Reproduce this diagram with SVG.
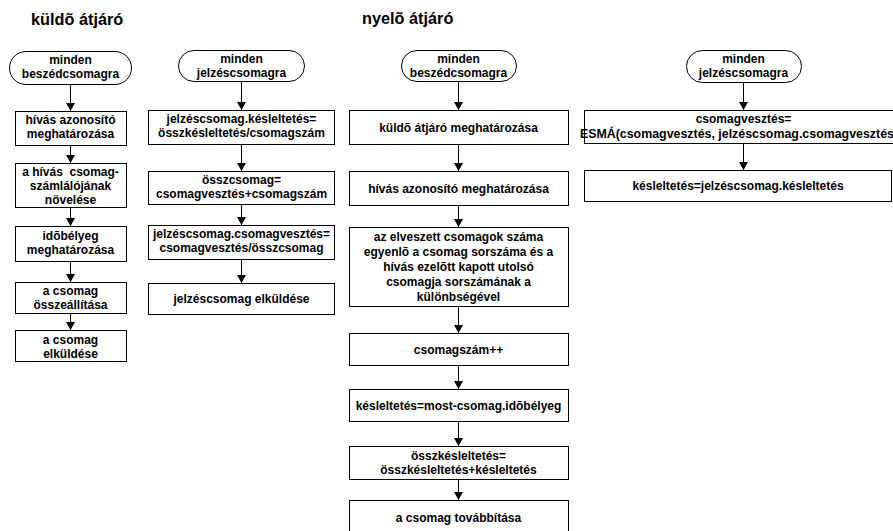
<svg xmlns="http://www.w3.org/2000/svg" width="893" height="531" viewBox="0 0 893 531">
<style>
text{font-family:"Liberation Sans",Arial,sans-serif;font-weight:bold;font-size:12px;fill:#000;text-anchor:middle}
.title{font-size:16.3px;text-anchor:start}
.box{fill:#fff;stroke:#000;stroke-width:1}
.conn line{stroke:#000;stroke-width:1;marker-end:url(#arr)}
</style>
<defs>
<marker id="arr" markerUnits="userSpaceOnUse" markerWidth="8" markerHeight="9" refX="8" refY="4.5" orient="auto">
<path d="M0,0 L8,4.5 L0,9 z" fill="#000"/>
</marker>
</defs>
<rect width="893" height="531" fill="#fff"/>
<text class="title" x="31" y="25">küldõ átjáró</text>
<text class="title" x="362" y="24">nyelõ átjáró</text>

<g class="conn">
<line x1="70.5" y1="85" x2="70.5" y2="111"/>
<line x1="70.5" y1="146" x2="70.5" y2="163"/>
<line x1="70.5" y1="208" x2="70.5" y2="226"/>
<line x1="70.5" y1="262" x2="70.5" y2="282"/>
<line x1="70.5" y1="314" x2="70.5" y2="330"/>

<line x1="241.5" y1="82" x2="241.5" y2="110"/>
<line x1="241.5" y1="145" x2="241.5" y2="171"/>
<line x1="241.5" y1="205" x2="241.5" y2="225"/>
<line x1="241.5" y1="260" x2="241.5" y2="283"/>

<line x1="458.5" y1="82" x2="458.5" y2="110"/>
<line x1="458.5" y1="145" x2="458.5" y2="171"/>
<line x1="458.5" y1="206" x2="458.5" y2="227"/>
<line x1="458.5" y1="307" x2="458.5" y2="333"/>
<line x1="458.5" y1="366" x2="458.5" y2="389"/>
<line x1="458.5" y1="422" x2="458.5" y2="446"/>
<line x1="458.5" y1="480" x2="458.5" y2="500"/>

<line x1="743.5" y1="83" x2="743.5" y2="110"/>
<line x1="743.5" y1="144" x2="743.5" y2="170"/>
</g>

<!-- column 1 -->
<g id="s-start"><rect class="box" x="9.5" y="51.5" width="122" height="33" rx="16.5"/><text x="70.5" y="64">minden</text><text x="70.5" y="78">beszédcsomagra</text></g>
<g id="s-1"><rect class="box" x="15.5" y="111.5" width="111" height="34"/><text x="70.5" y="124">hívás azonosító</text><text x="70.5" y="138">meghatározása</text></g>
<g id="s-2"><rect class="box" x="15.5" y="163.5" width="111" height="44"/><text x="70.5" y="176" style="white-space:pre">a hívás  csomag-</text><text x="70.5" y="190">számlálójának</text><text x="70.5" y="204">növelése</text></g>
<g id="s-3"><rect class="box" x="15.5" y="226.5" width="111" height="35"/><text x="70.5" y="240">idõbélyeg</text><text x="70.5" y="254">meghatározása</text></g>
<g id="s-4"><rect class="box" x="15.5" y="282.5" width="111" height="31"/><text x="70.5" y="295">a csomag</text><text x="70.5" y="309">összeállítása</text></g>
<g id="s-5"><rect class="box" x="15.5" y="330.5" width="111" height="31"/><text x="70.5" y="344">a csomag</text><text x="70.5" y="358">elküldése</text></g>

<!-- column 2 -->
<g id="j-start"><rect class="box" x="178.5" y="50.5" width="126" height="31" rx="15.5"/><text x="241.5" y="63">minden</text><text x="241.5" y="77">jelzéscsomagra</text></g>
<g id="j-1"><rect class="box" x="148.5" y="110.5" width="186" height="34"/><text x="241.5" y="123">jelzéscsomag.késleltetés=</text><text x="241.5" y="137">összkésleltetés/csomagszám</text></g>
<g id="j-2"><rect class="box" x="148.5" y="171.5" width="186" height="33"/><text x="241.5" y="184">összcsomag=</text><text x="241.5" y="198">csomagvesztés+csomagszám</text></g>
<g id="j-3"><rect class="box" x="148.5" y="225.5" width="186" height="34"/><text x="241.5" y="238">jelzéscsomag.csomagvesztés=</text><text x="241.5" y="252">csomagvesztés/összcsomag</text></g>
<g id="j-4"><rect class="box" x="148.5" y="283.5" width="186" height="31"/><text x="241.5" y="303">jelzéscsomag elküldése</text></g>

<!-- column 3 -->
<g id="r-start"><rect class="box" x="401.5" y="50.5" width="115" height="31" rx="15.5"/><text x="458.5" y="63">minden</text><text x="458.5" y="77">beszédcsomagra</text></g>
<g id="r-1"><rect class="box" x="349.5" y="110.5" width="219" height="34"/><text x="458.5" y="132">küldõ átjáró meghatározása</text></g>
<g id="r-2"><rect class="box" x="349.5" y="171.5" width="219" height="34"/><text x="458.5" y="193">hívás azonosító meghatározása</text></g>
<g id="r-3"><rect class="box" x="349.5" y="227.5" width="219" height="79"/><text x="458.5" y="241">az elveszett csomagok száma</text><text x="458.5" y="256">egyenlõ a csomag sorszáma és a</text><text x="458.5" y="271">hívás ezelõtt kapott utolsó</text><text x="458.5" y="286">csomagja sorszámának a</text><text x="458.5" y="301">különbségével</text></g>
<g id="r-4"><rect class="box" x="349.5" y="333.5" width="219" height="32"/><text x="458.5" y="354">csomagszám++</text></g>
<g id="r-5"><rect class="box" x="349.5" y="389.5" width="219" height="32"/><text x="458.5" y="410">késleltetés=most-csomag.idõbélyeg</text></g>
<g id="r-6"><rect class="box" x="349.5" y="446.5" width="219" height="33"/><text x="458.5" y="460">összkésleltetés=</text><text x="458.5" y="474">összkésleltetés+késleltetés</text></g>
<g id="r-7"><rect class="box" x="349.5" y="500.5" width="219" height="40"/><text x="458.5" y="522">a csomag továbbítása</text></g>

<!-- column 4 -->
<g id="q-start"><rect class="box" x="686.5" y="50.5" width="115" height="32" rx="16"/><text x="743.5" y="63">minden</text><text x="743.5" y="77">jelzéscsomagra</text></g>
<g id="q-1"><rect class="box" x="584.5" y="110.5" width="320" height="33"/><text x="743.5" y="123">csomagvesztés=</text><text x="739" y="138" style="font-size:12.4px">ESMÁ(csomagvesztés, jelzéscsomag.csomagvesztés)</text></g>
<g id="q-2"><rect class="box" x="584.5" y="170.5" width="307" height="31"/><text x="738" y="190">késleltetés=jelzéscsomag.késleltetés</text></g>
</svg>
